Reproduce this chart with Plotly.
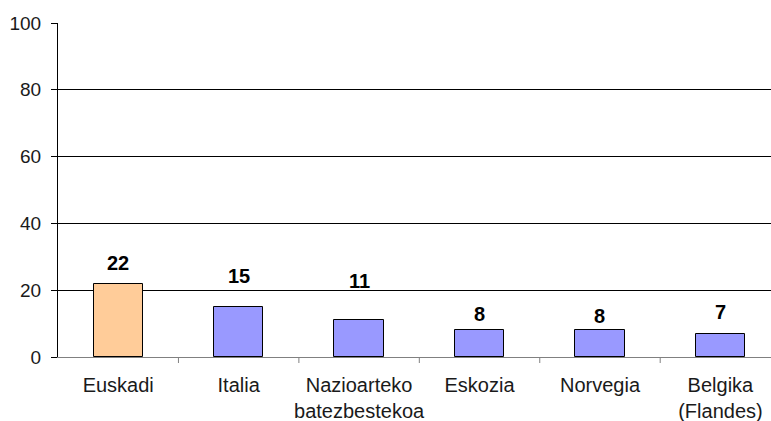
import plotly.graph_objects as go

# Categories and values
categories = ["Euskadi", "Italia", "Nazioarteko<br>batezbestekoa", "Eskozia", "Norvegia", "Belgika<br>(Flandes)"]
values = [22, 15, 11, 8, 8, 7]
y_ticks = [0, 20, 40, 60, 80, 100]

bar_colors = ["#FFCC99"] + ["#9999FF"] * 5
# vertical lift (px) of each value label above its bar top
label_lift = [21, 31, 39, 16, 14, 22]

FONT = "Liberation Sans, Arial, sans-serif"

fig = go.Figure()
fig.add_trace(go.Bar(
    x=list(range(len(categories))),
    y=values,
    width=0.41,
    marker=dict(color=bar_colors, line=dict(color="#000000", width=1)),
    hoverinfo="skip",
))

for i, (v, lift) in enumerate(zip(values, label_lift)):
    fig.add_annotation(
        x=i, y=v, text=f"<b>{v}</b>", showarrow=False,
        yanchor="middle", yshift=lift,
        font=dict(family=FONT, size=20, color="#000000"),
    )

fig.update_layout(
    width=771, height=421,
    margin=dict(l=58, r=0, t=23, b=64),
    paper_bgcolor="white", plot_bgcolor="white",
    showlegend=False,
    font=dict(family=FONT, color="#000000"),
    bargap=0,
)
fig.update_xaxes(
    type="linear",
    range=[-0.5, 5.42],
    tickmode="array", tickvals=list(range(len(categories))), ticktext=categories,
    showgrid=False, zeroline=False,
    showline=True, linecolor="#808080", linewidth=1,
    ticks="", tickfont=dict(size=20, color="#1a1a1a"),
    ticklabelstandoff=10,
)
# boundary tick marks between categories
for b in [0.5, 1.5, 2.5, 3.5, 4.5]:
    fig.add_shape(type="line", xref="x", yref="paper", x0=b, x1=b, y0=0, y1=-0.018,
                  line=dict(color="#808080", width=1))
fig.update_yaxes(
    range=[0, 100],
    tickmode="array", tickvals=y_ticks,
    showgrid=True, gridcolor="#000000", gridwidth=1,
    zeroline=False,
    showline=True, linecolor="#000000", linewidth=1,
    ticks="outside", ticklen=6, tickcolor="#000000",
    tickfont=dict(size=19, color="#1a1a1a"),
    ticklabelstandoff=6,
)

fig.write_html("out.html")
